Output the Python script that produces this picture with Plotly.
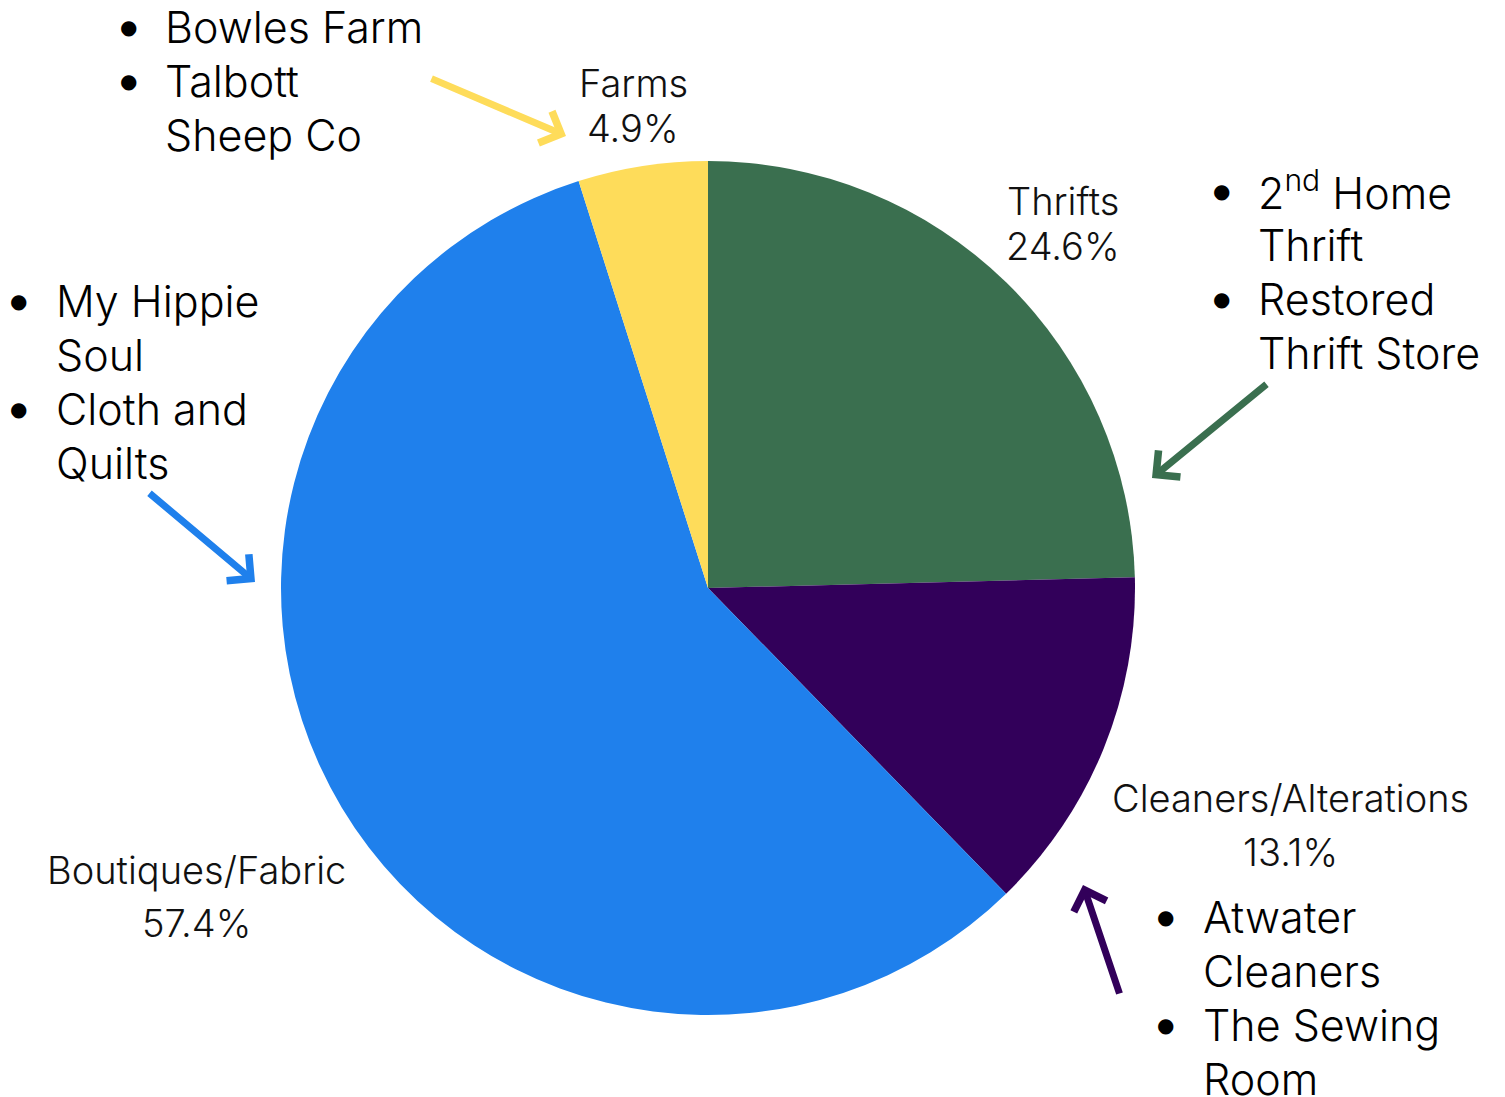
import plotly.graph_objects as go

W, H = 1505, 1097

categories = ["Thrifts", "Cleaners/Alterations", "Boutiques/Fabric", "Farms"]
values = [24.6, 13.1, 57.4, 4.9]
colors = ["#3A6F4F", "#32005A", "#1F80EC", "#FEDC5A"]

farm_items = [["Bowles Farm"], ["Talbott", "Sheep Co"]]
thrift_items = [["2<sup>nd</sup> Home", "Thrift"], ["Restored", "Thrift Store"]]
boutique_items = [["My Hippie", "Soul"], ["Cloth and", "Quilts"]]
cleaner_items = [["Atwater", "Cleaners"], ["The Sewing", "Room"]]

FONT = "Inter"


def px(x):
    return x / W


def py(y):
    return 1 - y / H


fig = go.Figure()
fig.add_trace(go.Pie(
    labels=categories,
    values=values,
    sort=False,
    direction="clockwise",
    rotation=0,
    marker=dict(colors=colors, line=dict(width=0)),
    textinfo="none",
    hoverinfo="label+percent",
    showlegend=False,
    domain=dict(x=[px(281), px(1135)], y=[py(1015), py(161)]),
))

annotations = []

# slice labels: (category index, center x, y of first line, y of second line)
label_pos = [
    (0, 1063, 201, 246),
    (1, 1290, 798, 852),
    (2, 196, 870, 923),
    (3, 633, 83, 128),
]
for idx, cx, y1, y2 in label_pos:
    for txt, yy in ((categories[idx], y1), (f"{values[idx]}%", y2)):
        annotations.append(dict(text=txt, x=px(cx), y=py(yy), xref="paper", yref="paper",
                                showarrow=False, xanchor="center", yanchor="middle",
                                font=dict(family=FONT, size=38, color="#111111", weight=300)))

# bullet lists: (items, bullet x, text x, first line y)
bullet_blocks = [
    (farm_items, 128, 163, 27),
    (thrift_items, 1221, 1256, 191),
    (boutique_items, 18, 54, 301),
    (cleaner_items, 1165, 1201, 917),
]
PITCH = 54
for items, bx, tx, y0 in bullet_blocks:
    line = 0
    for item in items:
        annotations.append(dict(text="●", x=px(bx), y=py(y0 + line * PITCH), xref="paper", yref="paper",
                                showarrow=False, xanchor="center", yanchor="middle",
                                font=dict(family="DejaVu Sans", size=20, color="#000000")))
        for t in item:
            annotations.append(dict(text=t, x=px(tx), y=py(y0 + line * PITCH), xref="paper", yref="paper",
                                    showarrow=False, xanchor="left", yanchor="middle",
                                    font=dict(family=FONT, size=43, color="#000000", weight=300)))
            line += 1

# arrows: (tail x, tail y, head x, head y, color)
arrows = [
    (430, 78, 566, 136, colors[3]),
    (1268, 383, 1152, 478, colors[0]),
    (148, 492, 255, 582, colors[2]),
    (1120, 995, 1083, 885, colors[1]),
]
for tx0, ty0, hx, hy, c in arrows:
    annotations.append(dict(text="", x=px(hx), y=py(hy), xref="paper", yref="paper",
                            ax=tx0 - hx, ay=ty0 - hy, axref="pixel", ayref="pixel",
                            showarrow=True, arrowhead=4, arrowsize=0.95, arrowwidth=7,
                            arrowcolor=c, standoff=0, startstandoff=0))

fig.update_layout(
    width=W, height=H,
    margin=dict(l=0, r=0, t=0, b=0),
    paper_bgcolor="white",
    plot_bgcolor="white",
    annotations=annotations,
)

fig.write_html("out.html", config={"displayModeBar": False},
               post_script="document.body.style.margin='0';")
